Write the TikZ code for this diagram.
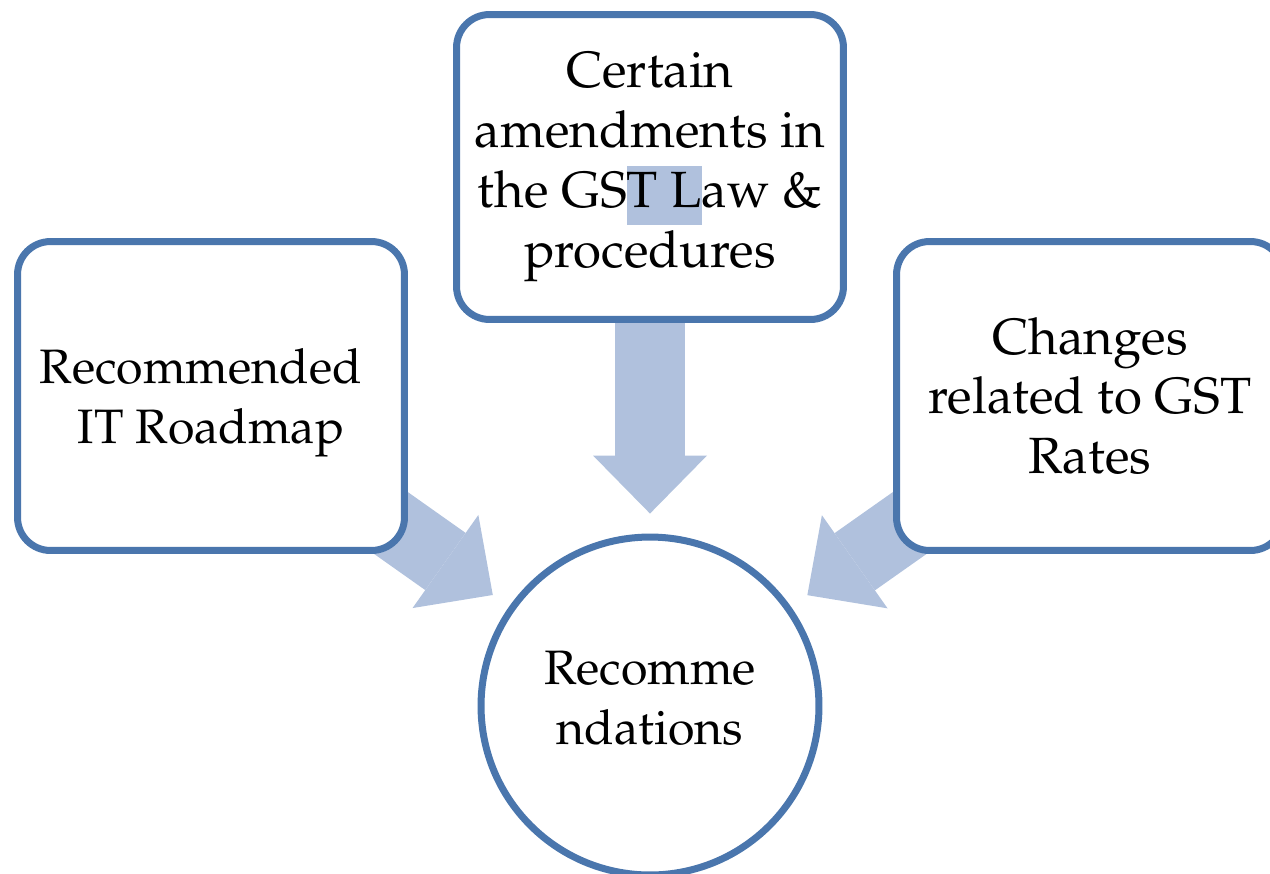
\documentclass[tikz,border=0pt]{standalone}
\usepackage[T1]{fontenc}
\usepackage{mathpazo}
\usetikzlibrary{arrows.meta}
\definecolor{bordercol}{RGB}{74,118,173}
\definecolor{arrowcol}{RGB}{176,193,221}
\pgfdeclarelayer{bg}
\pgfsetlayers{bg,main}
\newcommand\hlbox[1]{{\setlength{\fboxsep}{0pt}\colorbox{arrowcol}{\strut #1}}}
\tikzset{
  card/.style={draw=bordercol, line width=0.14cm, fill=white, rounded corners=0.66cm,
    minimum width=7.74cm, minimum height=6.18cm, align=center, inner sep=0pt,
    font=\fontsize{29}{34}\selectfont},
  hub/.style={circle, draw=bordercol, line width=0.14cm, fill=white, minimum size=6.76cm,
    inner sep=0pt, align=center, font=\fontsize{27.5}{34}\selectfont},
  blockarrow/.style={draw=arrowcol, line width=1.4cm,
    -{Triangle[width=2.28cm,length=1.16cm,line width=0pt]},
    shorten >=0.4cm, shorten <=-1.5cm}
}
\begin{document}
\begin{tikzpicture}[x=0.02cm,y=-0.02cm]
\clip (0,0) rectangle (1270,873);
\node[card, font=\fontsize{27.5}{34}\selectfont, text depth=0pt] (left) at (211,396) {Recommended\hspace*{0.4cm}\\ IT Roadmap};
\node[card, minimum height=6.1cm] (top) at (650,167) {Certain\\ amendments in\\ the GS\hlbox{T L}aw \&\\ procedures};
\node[card] (right) at (1090,396) {Changes\\ related to GST\\ Rates};
\node[hub, text depth=9pt] (rec) at (650,706) {Recomme\\ ndations};
\begin{pgfonlayer}{bg}
\draw[blockarrow] (top) -- (rec);
\draw[blockarrow] (left) -- (rec);
\draw[blockarrow] (right) -- (rec);
\end{pgfonlayer}
\end{tikzpicture}
\end{document}
